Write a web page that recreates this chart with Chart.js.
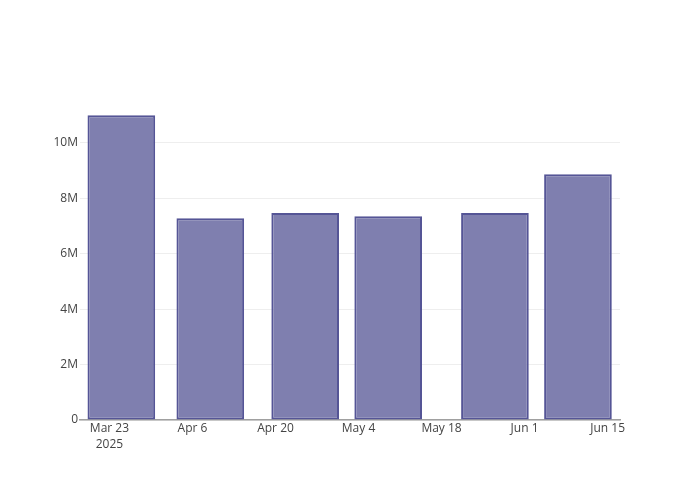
<!DOCTYPE html>
<html>
<head>
<meta charset="utf-8">
<script src="https://cdn.jsdelivr.net/npm/chart.js@4"></script>
<style>
  html, body { margin: 0; padding: 0; background: #fff; }
  canvas { display: block; }
</style>
</head>
<body>
<canvas id="chart" width="700" height="500"></canvas>
<script>
// bar dates and values
const barDates = ['2025-03-25', '2025-04-09', '2025-04-25', '2025-05-09', '2025-05-27', '2025-06-10'];
const barValues = [11.0e6, 7.28e6, 7.47e6, 7.35e6, 7.47e6, 8.87e6];

// x tick positions and labels
const tickDates = ['2025-03-23', '2025-04-06', '2025-04-20', '2025-05-04', '2025-05-18', '2025-06-01', '2025-06-15'];
const tickLabels = [['Mar 23', '2025'], 'Apr 6', 'Apr 20', 'May 4', 'May 18', 'Jun 1', 'Jun 15'];

// y tick values
const yTicks = [0, 2e6, 4e6, 6e6, 8e6, 10e6];
const yTickLabels = ['0', '2M', '4M', '6M', '8M', '10M'];

const toDay = s => Date.parse(s) / 864e5;
const tickDays = tickDates.map(toDay);

const font = { family: '"Open Sans", "DejaVu Sans", sans-serif', size: 12 };

new Chart(document.getElementById('chart'), {
  type: 'bar',
  data: {
    datasets: [{
      data: barDates.map((d, i) => ({ x: toDay(d), y: barValues[i] })),
      backgroundColor: 'rgb(127, 127, 175)',
      borderColor: 'rgb(85, 85, 150)',
      borderWidth: 2,
      borderSkipped: false,
      barPercentage: 0.815,
      categoryPercentage: 1.0
    }]
  },
  options: {
    responsive: false,
    animation: false,
    devicePixelRatio: 1,
    layout: { padding: { left: 0, right: 80, top: 100, bottom: 0 } },
    plugins: { legend: { display: false }, tooltip: { enabled: false } },
    scales: {
      x: {
        type: 'linear',
        offset: false,
        min: tickDays[0] - 4.97,
        max: tickDays[tickDays.length - 1] + 2.09,
        afterBuildTicks: scale => { scale.ticks = tickDays.map(v => ({ value: v })); },
        afterFit: scale => { scale.height = 80; },
        grid: { display: false, drawTicks: false, offset: false },
        border: { display: true, color: '#a0a0a0', width: 1.5 },
        ticks: {
          font: { ...font, lineHeight: 1.33 },
          color: '#444',
          padding: 1,
          maxRotation: 0,
          autoSkip: false,
          callback: (v) => {
            const i = tickDays.indexOf(v);
            return i >= 0 ? tickLabels[i] : '';
          }
        }
      },
      y: {
        min: 0,
        max: 11.55e6,
        afterBuildTicks: scale => { scale.ticks = yTicks.map(v => ({ value: v })); },
        afterFit: scale => { scale.width = 80; },
        grid: { color: '#eeeeee', lineWidth: 1, drawTicks: false },
        border: { display: false },
        ticks: {
          font: font,
          color: '#444',
          padding: 2,
          callback: (v) => {
            const i = yTicks.indexOf(v);
            return i >= 0 ? yTickLabels[i] : '';
          }
        }
      }
    }
  }
});
</script>
</body>
</html>
